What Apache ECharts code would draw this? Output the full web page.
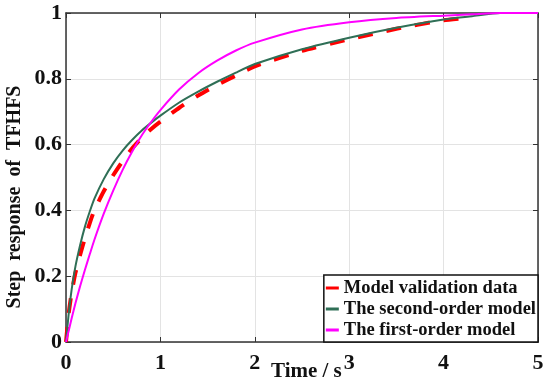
<!DOCTYPE html>
<html>
<head>
<meta charset="utf-8">
<script src="https://cdn.jsdelivr.net/npm/echarts@6/dist/echarts.min.js"></script>
<style>html,body{margin:0;padding:0;background:#fff}#c{width:550px;height:387px}</style>
</head>
<body>
<div id="c"></div>
<script>
// Time samples (s)
var timeValidation = [0, 0.03, 0.06, 0.1, 0.15, 0.2, 0.25, 0.3, 0.4, 0.5, 0.6, 0.7, 0.8, 0.9, 1.0, 1.2, 1.4, 1.6, 1.8, 2.0, 2.5, 3.0, 3.5, 4.0, 4.25];
var validationData = [0, 0.09, 0.15, 0.21, 0.265, 0.315, 0.36, 0.4, 0.458, 0.507, 0.55, 0.588, 0.62, 0.647, 0.67, 0.712, 0.749, 0.781, 0.81, 0.838, 0.885, 0.92, 0.952, 0.978, 0.985];

var timeModel = [0, 0.03, 0.06, 0.1, 0.15, 0.2, 0.25, 0.3, 0.4, 0.5, 0.6, 0.7, 0.8, 0.9, 1.0, 1.2, 1.4, 1.6, 1.8, 2.0, 2.5, 3.0, 3.5, 4.0, 4.3, 4.6, 5.0];
var secondOrder = [0, 0.09, 0.16, 0.23, 0.295, 0.35, 0.395, 0.435, 0.495, 0.543, 0.582, 0.614, 0.642, 0.666, 0.688, 0.728, 0.761, 0.791, 0.819, 0.845, 0.89, 0.925, 0.955, 0.98, 0.99, 1.0, 1.0];
var firstOrder = [0, 0.036, 0.072, 0.118, 0.17, 0.219, 0.265, 0.31, 0.39, 0.46, 0.523, 0.578, 0.627, 0.668, 0.705, 0.768, 0.817, 0.855, 0.886, 0.91, 0.95, 0.972, 0.985, 0.992, 0.996, 1.0, 1.0];

var seriesNames = ['Model validation data', 'The second-order model', 'The first-order model'];
var xTicks = [0, 1, 2, 3, 4, 5];
var yTicks = [0, 0.2, 0.4, 0.6, 0.8, 1];

function pairs(xs, ys) { return xs.map(function (x, i) { return [x, ys[i]]; }); }

var FONT = '"Liberation Serif", "Times New Roman", serif';
var axisColor = '#333333';

var chart = echarts.init(document.getElementById('c'), null, { renderer: 'canvas' });
chart.setOption({
  backgroundColor: '#ffffff',
  animation: false,
  grid: { left: 66, right: 12, top: 13, bottom: 45 },
  xAxis: [{
    type: 'value', min: xTicks[0], max: xTicks[xTicks.length - 1], interval: 1, position: 'bottom',
    axisLine: { show: true, onZero: false, lineStyle: { color: axisColor, width: 1.5 } },
    axisTick: { show: true, inside: true, length: 5, lineStyle: { color: axisColor, width: 1 } },
    axisLabel: { color: '#111', fontFamily: FONT, fontWeight: 'bold', fontSize: 22, margin: 10 },
    splitLine: { show: true, lineStyle: { color: '#e3e3e3', width: 1 } }
  }, {
    type: 'value', min: xTicks[0], max: xTicks[xTicks.length - 1], interval: 1, position: 'top',
    axisLine: { show: true, onZero: false, lineStyle: { color: axisColor, width: 1.5 } },
    axisTick: { show: true, inside: true, length: 5, lineStyle: { color: axisColor, width: 1 } },
    axisLabel: { show: false }, splitLine: { show: false }
  }],
  yAxis: [{
    type: 'value', min: yTicks[0], max: yTicks[yTicks.length - 1], interval: 0.2, position: 'left',
    axisLine: { show: true, onZero: false, lineStyle: { color: axisColor, width: 1.5 } },
    axisTick: { show: true, inside: true, length: 5, lineStyle: { color: axisColor, width: 1 } },
    axisLabel: { color: '#111', fontFamily: FONT, fontWeight: 'bold', fontSize: 22, margin: 4 },
    splitLine: { show: true, lineStyle: { color: '#e3e3e3', width: 1 } }
  }, {
    type: 'value', min: yTicks[0], max: yTicks[yTicks.length - 1], interval: 0.2, position: 'right',
    axisLine: { show: true, onZero: false, lineStyle: { color: axisColor, width: 1.5 } },
    axisTick: { show: true, inside: true, length: 5, lineStyle: { color: axisColor, width: 1 } },
    axisLabel: { show: false }, splitLine: { show: false }
  }],
  legend: {
    orient: 'vertical', right: 12, bottom: 45,
    backgroundColor: '#ffffff', borderColor: '#111', borderWidth: 1.5, borderRadius: 0,
    padding: [3, 2, 2, 2], itemGap: 1, itemWidth: 13, itemHeight: 3, icon: 'rect',
    textStyle: { fontFamily: FONT, fontWeight: 'bold', fontSize: 18.5, color: '#111', lineHeight: 20 },
    data: seriesNames
  },
  graphic: [{
    type: 'text', left: 271, top: 361,
    style: { text: 'Time / s', font: 'bold 21px ' + FONT, fill: '#111' }
  }, {
    type: 'text', x: 15, y: 197, rotation: Math.PI / 2,
    style: { text: 'Step  response  of  TFHFS', font: 'bold 20px ' + FONT, fill: '#111', align: 'center', verticalAlign: 'middle' }
  }],
  series: [{
    name: seriesNames[0], type: 'line', showSymbol: false, smooth: 0.2,
    data: pairs(timeValidation, validationData),
    lineStyle: { color: '#ff0000', width: 4, type: [15, 14] }, itemStyle: { color: '#ff0000' }
  }, {
    name: seriesNames[1], type: 'line', showSymbol: false, smooth: 0.2,
    data: pairs(timeModel, secondOrder),
    lineStyle: { color: '#2f6f56', width: 2 }, itemStyle: { color: '#2f6f56' }
  }, {
    name: seriesNames[2], type: 'line', showSymbol: false, smooth: 0.2,
    data: pairs(timeModel, firstOrder),
    lineStyle: { color: '#ff00ff', width: 2 }, itemStyle: { color: '#ff00ff' }
  }]
});
</script>
</body>
</html>
